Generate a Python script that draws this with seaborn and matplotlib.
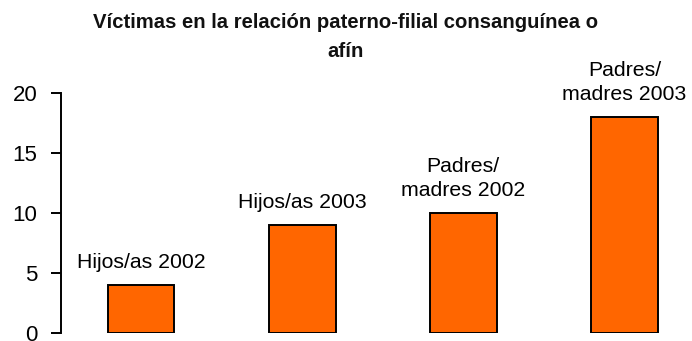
import matplotlib
matplotlib.use("Agg")
import matplotlib.pyplot as plt
import seaborn as sns
import pandas as pd

categories = ["Hijos/as 2002", "Hijos/as 2003", "Padres/\nmadres 2002", "Padres/\nmadres 2003"]
victims = [4, 9, 10, 18]
y_ticks = [0, 5, 10, 15, 20]
title = "Víctimas en la relación paterno-filial consanguínea o\nafín"

sns.set_theme(style="white")
plt.rcParams["font.family"] = ["Liberation Sans", "DejaVu Sans"]

df = pd.DataFrame({"categoria": categories, "victimas": victims})

fig = plt.figure(figsize=(6.92, 3.41), dpi=100)
ax = fig.add_axes([61 / 692, 8 / 341, 1 - 61 / 692, (333 - 93) / 341])

sns.barplot(data=df, x="categoria", y="victimas", color="#FF6600",
            saturation=1, edgecolor="black", linewidth=1.4, width=0.415, ax=ax)

for i, (lab, v) in enumerate(zip(categories, victims)):
    ax.annotate(lab, xy=(i, v), xytext=(0, 9), textcoords="offset points",
                ha="center", va="bottom", fontsize=15.3, color="black",
                linespacing=1.4, annotation_clip=False)

ax.set_xlim(-0.497, 3.42)
ax.set_ylim(0, 20)
ax.set_yticks(y_ticks)
ax.set_yticklabels([str(t) for t in y_ticks], fontsize=16, color="black")
ax.set_xticks([])
ax.set_xlabel("")
ax.set_ylabel("")
for s in ["top", "right", "bottom"]:
    ax.spines[s].set_visible(False)
ax.spines["left"].set_color("black")
ax.spines["left"].set_linewidth(1.4)
ax.tick_params(axis="y", left=True, length=7, width=1.4, color="black", pad=10)

fig.text(0.5, 1 - 57 / 341, title, ha="center", va="baseline",
         fontsize=14.6, fontweight="bold", linespacing=1.7, color="#111111")

fig.savefig("out.png", dpi=100)
